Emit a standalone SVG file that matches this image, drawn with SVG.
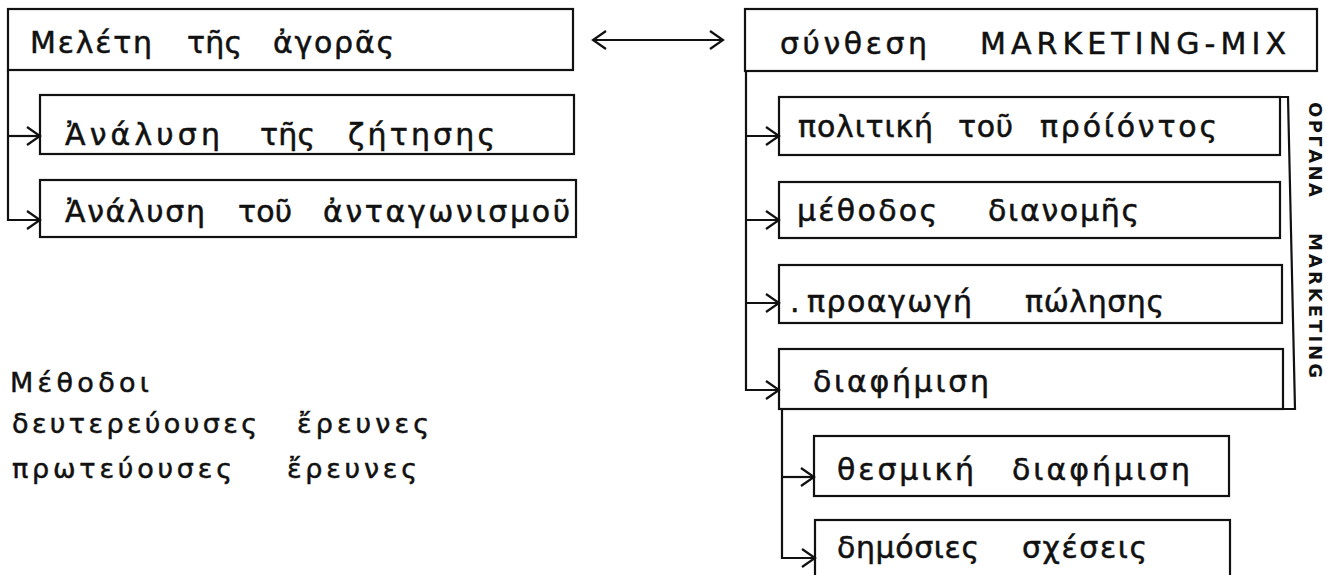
<svg xmlns="http://www.w3.org/2000/svg" width="1327" height="575" viewBox="0 0 1327 575">
<style>
.box{fill:none;stroke:#111;stroke-width:2.2}
.ln{fill:none;stroke:#111;stroke-width:2.2}
.t{font-family:"DejaVu Sans","Noto Sans",sans-serif;font-size:30px;fill:#111;stroke:#111;stroke-width:0.5}
.s{font-family:"DejaVu Sans","Noto Sans",sans-serif;font-size:27px;fill:#111;stroke:#111;stroke-width:0.5}
.v{font-family:"DejaVu Sans","Liberation Sans",sans-serif;font-size:18px;font-weight:bold;fill:#111}
</style>
<defs>
<marker id="ah" viewBox="0 0 16 22" refX="14" refY="11" markerWidth="16" markerHeight="22" markerUnits="userSpaceOnUse" orient="auto-start-reverse">
<path d="M1,2 L14,11 L1,20" fill="none" stroke="#111" stroke-width="2.2"/>
</marker>
</defs>
<rect width="1327" height="575" fill="#fff"/>
<g id="connectors">
<path class="ln" d="M8,70 V220 H40" marker-end="url(#ah)"/>
<path class="ln" d="M8,136 H40" marker-end="url(#ah)"/>
<path class="ln" d="M593,40 H723" marker-start="url(#ah)" marker-end="url(#ah)"/>
<path class="ln" d="M746,71 V390 H779" marker-end="url(#ah)"/>
<path class="ln" d="M746,136 H779" marker-end="url(#ah)"/>
<path class="ln" d="M746,220 H779" marker-end="url(#ah)"/>
<path class="ln" d="M746,303 H779" marker-end="url(#ah)"/>
<path class="ln" d="M782,409 V558 H815" marker-end="url(#ah)"/>
<path class="ln" d="M782,477 H814" marker-end="url(#ah)"/>
<path class="ln" d="M1280,97 H1288 L1295,409 H1283"/>
</g>
<g id="n-meleti">
<rect class="box" x="8" y="9" width="565" height="61"/>
<text class="t" y="53"><tspan x="30" textLength="122" lengthAdjust="spacing">Μελέτη</tspan> <tspan x="187" textLength="55" lengthAdjust="spacing">τῆς</tspan> <tspan x="273" textLength="121" lengthAdjust="spacing">ἀγορᾶς</tspan></text>
</g>
<g id="n-zitisi">
<rect class="box" x="40" y="95" width="534" height="59"/>
<text class="t" y="145"><tspan x="65" textLength="155" lengthAdjust="spacing">Ἀνάλυση</tspan> <tspan x="260" textLength="55" lengthAdjust="spacing">τῆς</tspan> <tspan x="348" textLength="147" lengthAdjust="spacing">ζήτησης</tspan></text>
</g>
<g id="n-antagonismos">
<rect class="box" x="40" y="180" width="536" height="57"/>
<text class="t" y="222"><tspan x="65" textLength="140" lengthAdjust="spacing">Ἀνάλυση</tspan> <tspan x="238" textLength="54" lengthAdjust="spacing">τοῦ</tspan> <tspan x="323" textLength="247" lengthAdjust="spacing">ἀνταγωνισμοῦ</tspan></text>
</g>
<g id="n-synthesi">
<rect class="box" x="745" y="9" width="572" height="62"/>
<text class="t" y="54"><tspan x="780" textLength="147" lengthAdjust="spacing">σύνθεση</tspan> <tspan x="980" textLength="306" lengthAdjust="spacing">MARKETING-MIX</tspan></text>
</g>
<g id="n-politiki">
<rect class="box" x="779" y="97" width="501" height="58"/>
<text class="t" y="137"><tspan x="798" textLength="135" lengthAdjust="spacing">πολιτική</tspan> <tspan x="958" textLength="55" lengthAdjust="spacing">τοῦ</tspan> <tspan x="1040" textLength="177" lengthAdjust="spacing">πρόίόντος</tspan></text>
</g>
<g id="n-methodos">
<rect class="box" x="779" y="182" width="501" height="56"/>
<text class="t" y="221"><tspan x="797" textLength="140" lengthAdjust="spacing">μέθοδος</tspan> <tspan x="988" textLength="151" lengthAdjust="spacing">διανομῆς</tspan></text>
</g>
<g id="n-proagogi">
<rect class="box" x="779" y="265" width="503" height="58"/>
<text class="t" y="312"><tspan x="790">.</tspan> <tspan x="807" textLength="165" lengthAdjust="spacing">προαγωγή</tspan> <tspan x="1025" textLength="139" lengthAdjust="spacing">πώλησης</tspan></text>
</g>
<g id="n-diafimisi">
<rect class="box" x="779" y="349" width="504" height="60"/>
<text class="t" x="813" y="392" textLength="176" lengthAdjust="spacing">διαφήμιση</text>
</g>
<g id="n-thesmiki">
<rect class="box" x="814" y="436" width="415" height="60"/>
<text class="t" y="480"><tspan x="837" textLength="137" lengthAdjust="spacing">θεσμική</tspan> <tspan x="1012" textLength="178" lengthAdjust="spacing">διαφήμιση</tspan></text>
</g>
<g id="n-dimosies">
<rect class="box" x="815" y="520" width="415" height="70"/>
<text class="t" y="558"><tspan x="837" textLength="142" lengthAdjust="spacing">δημόσιες</tspan> <tspan x="1022" textLength="125" lengthAdjust="spacing">σχέσεις</tspan></text>
</g>
<g id="n-organa">
<text class="v" transform="translate(1309,102) rotate(90)" textLength="95" lengthAdjust="spacing">ΟΡΓΑΝΑ</text>
<text class="v" transform="translate(1309,233) rotate(90)" textLength="145" lengthAdjust="spacing">MARKETING</text>
</g>
<g id="n-methodoi">
<text class="s" x="10" y="392" textLength="139" lengthAdjust="spacing">Μέθοδοι</text>
<text class="s" y="433"><tspan x="12" textLength="245" lengthAdjust="spacing">δευτερεύουσες</tspan> <tspan x="297" textLength="132" lengthAdjust="spacing">ἔρευνες</tspan></text>
<text class="s" y="478"><tspan x="12" textLength="220" lengthAdjust="spacing">πρωτεύουσες</tspan> <tspan x="287" textLength="130" lengthAdjust="spacing">ἔρευνες</tspan></text>
</g>
</svg>
